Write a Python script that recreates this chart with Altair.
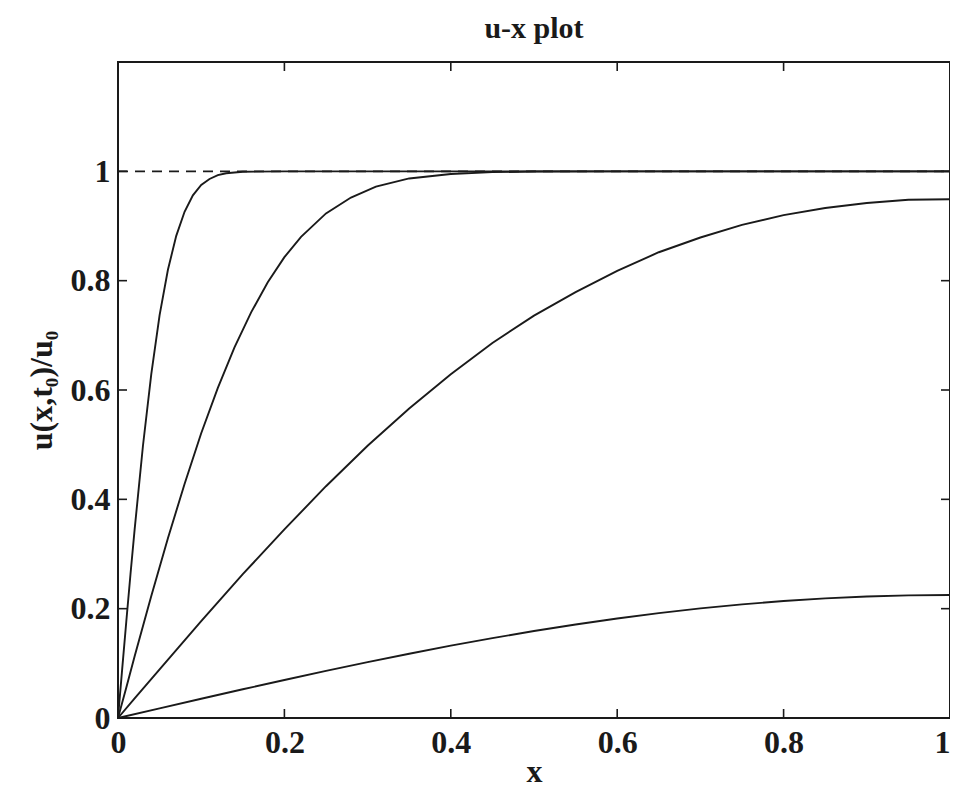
import altair as alt
import pandas as pd

# ---- data ----
x_ticks = [0, 0.2, 0.4, 0.6, 0.8, 1.0]
y_ticks = [0, 0.2, 0.4, 0.6, 0.8, 1.0]

c1_x = [0, 0.005, 0.01, 0.015, 0.02, 0.03, 0.04, 0.05, 0.06, 0.07, 0.08, 0.09,
        0.10, 0.11, 0.12, 0.13, 0.15, 0.2, 0.4, 0.6, 0.8, 1.0]
c1_y = [0, 0.089, 0.177, 0.263, 0.345, 0.498, 0.629, 0.737, 0.820, 0.882, 0.926, 0.956,
        0.975, 0.986, 0.993, 0.9965, 0.9993, 1.0, 1.0, 1.0, 1.0, 1.0]

c2_x = [0, 0.01, 0.02, 0.04, 0.06, 0.08, 0.10, 0.12, 0.14, 0.16, 0.18, 0.20, 0.22,
        0.25, 0.28, 0.31, 0.35, 0.40, 0.45, 0.5, 0.6, 0.8, 1.0]
c2_y = [0, 0.056, 0.113, 0.223, 0.329, 0.428, 0.521, 0.604, 0.678, 0.742, 0.797, 0.843, 0.880,
        0.923, 0.952, 0.972, 0.987, 0.995, 0.9985, 0.9996, 1.0, 1.0, 1.0]

c3_x = [0, 0.02, 0.05, 0.1, 0.15, 0.2, 0.25, 0.3, 0.35, 0.4, 0.45, 0.5, 0.55, 0.6,
        0.65, 0.7, 0.75, 0.8, 0.85, 0.9, 0.95, 1.0]
c3_y = [0, 0.036, 0.089, 0.177, 0.263, 0.345, 0.424, 0.498, 0.566, 0.629, 0.686, 0.736, 0.779, 0.818,
        0.852, 0.879, 0.902, 0.920, 0.933, 0.942, 0.948, 0.949]

c4_x = [0, 0.05, 0.1, 0.15, 0.2, 0.25, 0.3, 0.35, 0.4, 0.45, 0.5, 0.55, 0.6, 0.65,
        0.7, 0.75, 0.8, 0.85, 0.9, 0.95, 1.0]
c4_y = [0, 0.0177, 0.0352, 0.0525, 0.0695, 0.0861, 0.1021, 0.1176, 0.1323, 0.1461, 0.1591, 0.1711,
        0.1820, 0.1918, 0.2005, 0.2079, 0.2140, 0.2188, 0.2222, 0.2243, 0.225]

ref_x = [0, 1]
ref_y = [1, 1]

rows = []
for name, xs_, ys_ in [("c1", c1_x, c1_y), ("c2", c2_x, c2_y), ("c3", c3_x, c3_y), ("c4", c4_x, c4_y)]:
    for a, b in zip(xs_, ys_):
        rows.append({"series": name, "x": a, "u": b})
df = pd.DataFrame(rows)
ref_df = pd.DataFrame({"x": ref_x, "u": ref_y})
yt_df = pd.DataFrame({"u": y_ticks})
xt_df = pd.DataFrame({"x": x_ticks})

W, H = 832, 656
FONT = "Liberation Serif"
INK = "#1a1a1a"
TL = 9
LW = 1.9

xscale = alt.Scale(domain=[0, 1], nice=False, zero=False)
yscale = alt.Scale(domain=[0, 1.2], nice=False, zero=False)

x_axis = alt.Axis(values=x_ticks, format="~g", ticks=False, domain=False, grid=False,
                  labelFont=FONT, labelFontSize=32, labelFontWeight="bold", labelColor=INK,
                  labelPadding=9, labelFlush=False,
                  labelAlign={"condition": {"test": "datum.value >= 1", "value": "right"},
                              "value": "center"},
                  title="x", titleFont=FONT, titleFontSize=32, titleFontWeight="bold",
                  titleColor=INK, titlePadding=-2)
y_axis = alt.Axis(values=y_ticks, format="~g", ticks=False, domain=False, grid=False,
                  labelFont=FONT, labelFontSize=32, labelFontWeight="bold", labelColor=INK,
                  labelPadding=8, labelFlush=False,
                  title="u(x,t₀)/u₀", titleFont=FONT, titleFontSize=32, titleFontWeight="bold",
                  titleColor=INK, titlePadding=12)

X = alt.X("x:Q", scale=xscale, axis=x_axis)
Y = alt.Y("u:Q", scale=yscale, axis=y_axis)

ref = alt.Chart(ref_df).mark_line(color=INK, strokeWidth=LW, strokeDash=[10, 7]).encode(x=X, y=Y)

curves = alt.Chart(df).mark_line(color=INK, strokeWidth=LW).encode(
    x=X, y=Y, detail="series:N",
)

tick_left = alt.Chart(yt_df).mark_rule(color=INK, strokeWidth=1.6).encode(
    y=Y, x=alt.value(0), x2=alt.value(TL))
tick_right = alt.Chart(yt_df).mark_rule(color=INK, strokeWidth=1.6).encode(
    y=Y, x=alt.value(W - TL), x2=alt.value(W))
tick_bottom = alt.Chart(xt_df).mark_rule(color=INK, strokeWidth=1.6).encode(
    x=X, y=alt.value(H - TL), y2=alt.value(H))
tick_top = alt.Chart(xt_df).mark_rule(color=INK, strokeWidth=1.6).encode(
    x=X, y=alt.value(0), y2=alt.value(TL))

chart = alt.layer(ref, curves, tick_left, tick_right, tick_bottom, tick_top).properties(
    width=W, height=H,
    title=alt.TitleParams("u-x plot", font=FONT, fontSize=30, fontWeight="bold", color=INK,
                          anchor="middle", offset=17),
    autosize=alt.AutoSizeParams(type="none"),
    padding={"left": 110, "top": 54, "right": 0, "bottom": 70},
).configure_view(stroke=INK, strokeWidth=2)

chart.save("out.html", embed_options={"renderer": "svg", "actions": False})
